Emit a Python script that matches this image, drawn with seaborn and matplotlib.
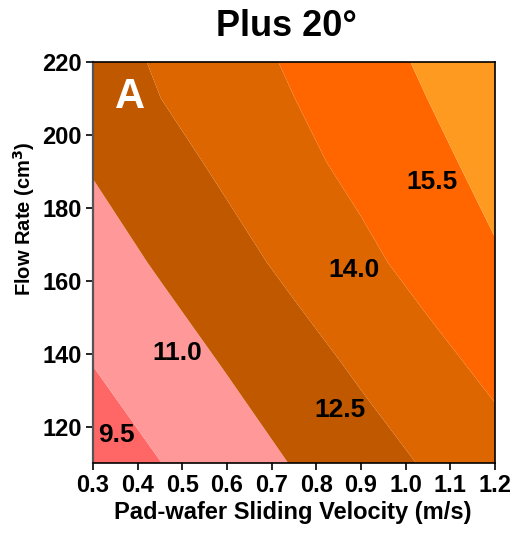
import numpy as np
import matplotlib
matplotlib.use("Agg")
import matplotlib.pyplot as plt
import seaborn as sns

# Grid of the response surface: sliding velocity (m/s) x flow rate (cm^3)
velocity = [0.3, 0.45, 0.6, 0.75, 0.9, 1.05, 1.2]
flow_rate = [110, 137.5, 165, 192.5, 210, 220]

# Response values, one row per flow rate
z_110 = [9.43, 10.23, 11.02, 11.82, 12.61, 13.39, 14.18]
z_137 = [10.28, 11.06, 11.85, 12.67, 13.49, 14.31, 15.13]
z_165 = [11.10, 11.90, 12.75, 13.59, 14.41, 15.26, 16.11]
z_192 = [11.88, 12.72, 13.55, 14.37, 15.15, 15.91, 16.67]
z_210 = [12.40, 13.24, 13.98, 14.74, 15.49, 16.26, 17.02]
z_220 = [12.64, 13.40, 14.16, 14.93, 15.69, 16.45, 17.21]

# Band centre values and the labels written inside the bands
band_values = [9.5, 11.0, 12.5, 14.0, 15.5, 17.0]
band_colors = ["#FF6666", "#FF9999", "#C05800", "#DD6600", "#FF6600", "#FF9A20"]
label_values = [9.5, 11.0, 12.5, 14.0, 15.5]
label_x = [0.352, 0.488, 0.853, 0.884, 1.058]
label_y = [117.8, 140.1, 124.5, 162.9, 187.2]

x_ticks = [0.3, 0.4, 0.5, 0.6, 0.7, 0.8, 0.9, 1.0, 1.1, 1.2]
y_ticks = [120, 140, 160, 180, 200, 220]

sns.set_style("ticks")
plt.rcParams["font.family"] = ["Liberation Sans", "DejaVu Sans"]
plt.rcParams["font.weight"] = "bold"
plt.rcParams["text.color"] = "black"
plt.rcParams["axes.labelcolor"] = "black"
plt.rcParams["xtick.color"] = "black"
plt.rcParams["ytick.color"] = "black"

Z = np.array([z_110, z_137, z_165, z_192, z_210, z_220])
X, Y = np.meshgrid(velocity, flow_rate)

step = band_values[1] - band_values[0]
levels = [v - step / 2 for v in band_values] + [band_values[-1] + step / 2]

fig = plt.figure(figsize=(5.15, 5.33), dpi=100)
ax = fig.add_axes([0.1806, 0.1313, 0.7806, 0.7524])

ax.contourf(X, Y, Z, levels=levels, colors=band_colors, antialiased=True)

for v, lx, ly in zip(label_values, label_x, label_y):
    ax.text(lx, ly, f"{v:.1f}", ha="center", va="center",
            fontsize=19, fontweight="bold", color="black")

ax.text(0.383, 210.3, "A", ha="center", va="center",
        fontsize=30, fontweight="bold", color="white")

ax.set_xlim(0.3, 1.2)
ax.set_ylim(110, 220)
ax.set_xticks(x_ticks)
ax.set_xticklabels([f"{t:.1f}" for t in x_ticks])
ax.set_yticks(y_ticks)
ax.set_yticklabels([str(t) for t in y_ticks])
ax.tick_params(axis="both", direction="out", length=5, width=1.2,
               labelsize=17, color="black", labelcolor="black", pad=3)
for lab in ax.get_xticklabels() + ax.get_yticklabels():
    lab.set_fontweight("bold")

for side in ["top", "right", "bottom"]:
    ax.spines[side].set_visible(True)
    ax.spines[side].set_color("black")
    ax.spines[side].set_linewidth(1.2)
ax.spines["left"].set_color("#555555")
ax.spines["left"].set_linewidth(1.6)

fig.text(292.5 / 515, 1 - 513 / 533, "Pad-wafer Sliding Velocity (m/s)",
         ha="center", va="center", fontsize=17, fontweight="bold")
fig.text(24.5 / 515, 1 - 219 / 533, "Flow Rate (cm$^\\mathbf{3}$)",
         ha="center", va="center", rotation=90, fontsize=14.5,
         fontweight="bold")

fig.text(286 / 515, 1 - 26 / 533, "Plus 20°", ha="center", va="center",
         fontsize=26, fontweight="bold")

fig.savefig("out.png", dpi=100)
